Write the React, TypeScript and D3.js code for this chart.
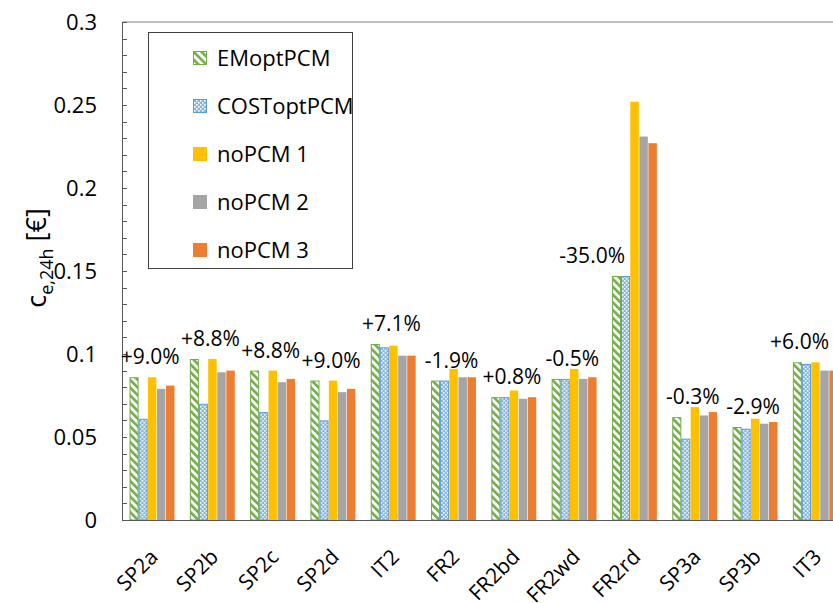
import * as d3 from 'd3';
import React, { useEffect, useRef } from 'react';

// chart data
const categories = ['SP2a', 'SP2b', 'SP2c', 'SP2d', 'IT2', 'FR2', 'FR2bd', 'FR2wd', 'FR2rd', 'SP3a', 'SP3b', 'IT3'];
const seriesNames = ['EMoptPCM', 'COSToptPCM', 'noPCM 1', 'noPCM 2', 'noPCM 3'];
const emOpt = [0.086, 0.097, 0.090, 0.084, 0.106, 0.084, 0.074, 0.085, 0.147, 0.062, 0.056, 0.095];
const costOpt = [0.061, 0.070, 0.065, 0.060, 0.104, 0.084, 0.074, 0.085, 0.147, 0.049, 0.055, 0.094];
const noPcm1 = [0.086, 0.097, 0.090, 0.084, 0.105, 0.091, 0.078, 0.091, 0.252, 0.068, 0.061, 0.095];
const noPcm2 = [0.079, 0.089, 0.083, 0.077, 0.099, 0.086, 0.073, 0.085, 0.231, 0.063, 0.058, 0.090];
const noPcm3 = [0.081, 0.090, 0.085, 0.079, 0.099, 0.086, 0.074, 0.086, 0.227, 0.065, 0.059, 0.090];
const diffLabels = ['+9.0%', '+8.8%', '+8.8%', '+9.0%', '+7.1%', '-1.9%', '+0.8%', '-0.5%', '-35.0%', '-0.3%', '-2.9%', '+6.0%'];
const yTicks = [0, 0.05, 0.1, 0.15, 0.2, 0.25, 0.3];

const FONT = '"Open Sans", "Noto Sans", sans-serif';
const W = 833;

const App = () => {
	const chartRef = useRef<SVGSVGElement>(null);

	useEffect(() => {
		const svg = d3.select(chartRef.current);
		svg.selectAll('*').remove();

		const margin = { top: 22, left: 122 };
		const bottom = 520;
		const band = 60.3;

		const x0 = d3.scaleBand<string>()
			.domain(categories)
			.range([margin.left, margin.left + band * categories.length]);
		const x1 = d3.scaleBand<string>()
			.domain(seriesNames)
			.range([0, band * 0.75]);
		const y = d3.scaleLinear().domain([0, 0.3]).range([bottom, margin.top]);

		const seriesValues = [emOpt, costOpt, noPcm1, noPcm2, noPcm3];

		// patterns
		const defs = svg.append('defs');
		const hatch = defs.append('pattern')
			.attr('id', 'hatch')
			.attr('patternUnits', 'userSpaceOnUse')
			.attr('width', 5.5).attr('height', 5.5)
			.attr('patternTransform', 'rotate(-45)');
		hatch.append('rect').attr('width', 5.5).attr('height', 5.5).attr('fill', '#fff');
		hatch.append('rect').attr('width', 2.6).attr('height', 5.5).attr('fill', '#70AD47');

		const dots = defs.append('pattern')
			.attr('id', 'dots')
			.attr('patternUnits', 'userSpaceOnUse')
			.attr('width', 4).attr('height', 4);
		dots.append('rect').attr('width', 4).attr('height', 4).attr('fill', '#86B6E0');
		dots.append('rect').attr('x', 0).attr('y', 0).attr('width', 1.6).attr('height', 1.6).attr('fill', '#fff');
		dots.append('rect').attr('x', 2).attr('y', 2).attr('width', 1.6).attr('height', 1.6).attr('fill', '#fff');

		const fills = ['url(#hatch)', 'url(#dots)', '#FFC000', '#A5A5A5', '#ED7D31'];
		const strokes = ['#70AD47', '#5B9BD5', 'none', 'none', 'none'];

		const data = categories.map((c, i) => ({
			cat: c,
			values: seriesNames.map((s, k) => ({ key: s, k, value: seriesValues[k][i] })),
		}));

		// bars
		const groups = svg.append('g')
			.selectAll('g')
			.data(data)
			.enter().append('g')
			.attr('transform', d => 'translate(' + ((x0(d.cat) as number) + band * 0.125) + ',0)');

		groups.selectAll('rect')
			.data(d => d.values)
			.enter().append('rect')
			.attr('x', d => (x1(d.key) as number) + (d.k < 2 ? 0.5 : 0.3))
			.attr('y', d => y(d.value) + (d.k < 2 ? 0.5 : 0))
			.attr('width', d => x1.bandwidth() - (d.k < 2 ? 1 : 0.6))
			.attr('height', d => bottom - y(d.value) - (d.k < 2 ? 0.5 : 0))
			.attr('fill', d => fills[d.k])
			.attr('stroke', d => strokes[d.k])
			.attr('stroke-width', 1);

		// frame
		svg.append('line')
			.attr('x1', margin.left).attr('x2', W)
			.attr('y1', margin.top).attr('y2', margin.top)
			.attr('stroke', '#7f7f7f').attr('stroke-width', 1);

		// y axis with inner minor ticks
		const minor = d3.range(0, 0.3001, 0.01);
		svg.append('g')
			.selectAll('line')
			.data(minor)
			.enter().append('line')
			.attr('x1', margin.left).attr('x2', margin.left + 5)
			.attr('y1', d => Math.round(y(d)) + 0.5).attr('y2', d => Math.round(y(d)) + 0.5)
			.attr('stroke', '#595959');
		svg.append('line')
			.attr('x1', margin.left + 0.5).attr('x2', margin.left + 0.5)
			.attr('y1', margin.top).attr('y2', bottom)
			.attr('stroke', '#595959');
		svg.append('line')
			.attr('x1', margin.left).attr('x2', W)
			.attr('y1', bottom + 0.5).attr('y2', bottom + 0.5)
			.attr('stroke', '#595959');

		svg.append('g')
			.selectAll('text')
			.data(yTicks)
			.enter().append('text')
			.attr('x', 97)
			.attr('y', d => y(d))
			.attr('dy', '0.35em')
			.attr('text-anchor', 'end')
			.style('font-family', FONT)
			.style('font-size', '22px')
			.attr('fill', '#000')
			.text(d => String(d));

		// y axis title
		const yt = svg.append('text')
			.attr('transform', 'translate(46,258) rotate(-90)')
			.attr('text-anchor', 'middle')
			.style('font-family', FONT)
			.style('font-size', '27px')
			.attr('fill', '#000');
		yt.append('tspan').text('c');
		yt.append('tspan').attr('dy', 7).style('font-size', '18px').text('e,24h');
		yt.append('tspan').attr('dy', -7).text(' [€]');

		// x labels
		svg.append('g')
			.selectAll('text')
			.data(categories)
			.enter().append('text')
			.attr('transform', d => 'translate(' + ((x0(d) as number) + band / 2 + 2) + ',553) rotate(-45)')
			.attr('text-anchor', 'end')
			.attr('dy', '0.35em')
			.style('font-family', FONT)
			.style('font-size', '21px')
			.attr('fill', '#000')
			.text(d => d);

		// difference labels above EMoptPCM bar
		svg.append('g')
			.selectAll('text')
			.data(data)
			.enter().append('text')
			.style('font-family', FONT)
			.style('font-size', '21px')
			.attr('fill', '#000')
			.text((d, i) => diffLabels[i])
			.each(function (d, i) {
				const gx = (x0(d.cat) as number) + band * 0.125;
				const t = d3.select(this);
				const w = (this as SVGTextElement).getComputedTextLength();
				const maxOther = Math.max(noPcm1[i], noPcm2[i], noPcm3[i]);
				let left;
				if (maxOther - emOpt[i] > 0.03) {
					// keep clear of the taller noPCM bars
					left = gx + (x1('noPCM 1') as number) - 5 - w;
				} else {
					left = (x0(d.cat) as number) + band / 2 - 2 - w / 2;
				}
				left = Math.min(left, W - 4 - w);
				t.attr('x', left).attr('y', y(emOpt[i]) - 13);
			});

		// legend
		const lg = svg.append('g');
		lg.append('rect')
			.attr('x', 148.5).attr('y', 32.5)
			.attr('width', 204).attr('height', 236)
			.attr('fill', '#fff').attr('stroke', '#404040').attr('stroke-width', 1);
		seriesNames.forEach((s, k) => {
			const cy = 58 + k * 48;
			lg.append('rect')
				.attr('x', k < 2 ? 193.5 : 193).attr('y', cy - 7 + (k < 2 ? 0.5 : 0))
				.attr('width', k < 2 ? 13 : 14).attr('height', k < 2 ? 13 : 14)
				.attr('fill', fills[k])
				.attr('stroke', strokes[k]);
			lg.append('text')
				.attr('x', 217).attr('y', cy)
				.attr('dy', '0.35em')
				.style('font-family', FONT)
				.style('font-size', '22px')
				.attr('fill', '#000')
				.text(s);
		});
	}, []);

	return (
		<svg ref={chartRef} width={W} height={603}
			style={{ position: 'absolute', left: 0, top: 0, background: '#fff' }} />
	);
};

export default App;
